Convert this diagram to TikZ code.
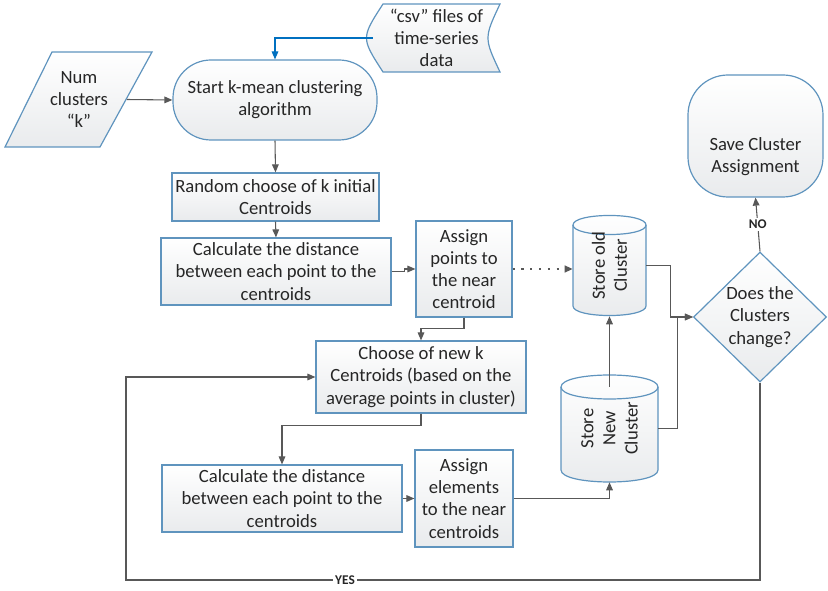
\documentclass[tikz,border=0pt]{standalone}
\usepackage{fontspec}
\setmainfont{Carlito}
\usetikzlibrary{shapes.geometric,arrows.meta,calc}

\definecolor{edgeblue}{RGB}{95,148,190}
\definecolor{linegray}{RGB}{88,88,88}
\definecolor{flowblue}{RGB}{0,112,192}
\definecolor{shadebot}{RGB}{233,235,237}
\definecolor{txt}{RGB}{38,38,38}

\begin{document}
\begin{tikzpicture}[x=0.75pt,y=-0.75pt,
  every node/.style={font=\fontsize{14}{16.6}\selectfont, text=txt, align=center, inner sep=0pt},
  shapebase/.style={draw=edgeblue, line width=0.9pt, top color=white, bottom color=shadebot},
  box/.style={shapebase, rectangle},
  term/.style={shapebase, rectangle, rounded corners=#1},
  dec/.style={shapebase, diamond, aspect=1},
  conn/.style={draw=linegray, line width=0.8pt, -{Triangle[length=6pt,width=5pt]}},
  bconn/.style={draw=flowblue, line width=0.8pt, -{Triangle[length=6pt,width=5pt]}},
  lbl/.style={font=\fontsize{10}{12}\selectfont\bfseries, fill=white, inner sep=1.5pt}
]
\useasboundingbox (0,0) rectangle (828,591);

% input parallelogram and stored-data symbol
\draw[shapebase] (52,52) -- (152,52) -- (100,147) -- (5,147) -- cycle;
\node[minimum width=95*0.75pt, minimum height=60*0.75pt] (num) at (79,99.5) {Num\\clusters\\“k”};

\draw[shapebase] (383,4) -- (500,4) .. controls (484,38) .. (500,72) -- (383,72) .. controls (361,38) .. (383,4) -- cycle;
\node[minimum width=127*0.75pt, minimum height=60*0.75pt] (csv) at (436.5,38) {“csv” files of\\time-series\\data};

% process steps
\node[term=28.5pt, minimum width=204*0.75pt, minimum height=80*0.75pt] (start) at (275,100) {Start k-mean clustering\\algorithm};
\node[box, minimum width=207*0.75pt, minimum height=48*0.75pt] (rand) at (275.5,197) {Random choose of k initial\\Centroids};
\node[box, minimum width=230*0.75pt, minimum height=67*0.75pt] (calc1) at (276,271.5) {Calculate the distance\\between each point to the\\centroids};
\node[box, minimum width=96*0.75pt, minimum height=96*0.75pt] (assign1) at (464,269) {Assign\\points to\\the near\\centroid};
\node[box, minimum width=210*0.75pt, minimum height=72*0.75pt] (choose) at (421,377) {Choose of new k\\Centroids (based on the\\average points in cluster)};
\node[box, minimum width=240*0.75pt, minimum height=67*0.75pt] (calc2) at (282,498.5) {Calculate the distance\\between each point to the\\centroids};
\node[box, minimum width=98*0.75pt, minimum height=97*0.75pt] (assign2) at (464,498.5) {Assign\\elements\\to the near\\centroids};

% storage cylinders, drawn as outlines with a rotated label node on top
% (label nodes are turned by 90 degrees: north = left side, east = top)
\path[shapebase] (573,225) -- (573,306) .. controls (573,318.7) and (646,318.7) .. (646,306)
  -- (646,225) .. controls (646,212.3) and (573,212.3) .. (573,225) -- cycle;
\draw[edgeblue, line width=0.9pt] (573,225) .. controls (573,237.7) and (646,237.7) .. (646,225);
\node[rotate=90, minimum width=101*0.75pt, minimum height=73*0.75pt] (old) at (609.5,265.5) {Store old\\Cluster};

\path[shapebase] (561,387) -- (561,470) .. controls (561,486) and (658,486) .. (658,470)
  -- (658,387) .. controls (658,371) and (561,371) .. (561,387) -- cycle;
\draw[edgeblue, line width=0.9pt] (561,387) .. controls (561,403) and (658,403) .. (658,387);
\node[rotate=90, minimum width=107*0.75pt, minimum height=97*0.75pt] (new) at (609.5,428.5) {Store\\New\\Cluster};

% decision and end
\node[dec, minimum width=133*0.75pt, minimum height=130*0.75pt] (dia) at (760,317) {Does the\\Clusters\\change?};
\node[term=30pt, minimum width=135*0.75pt, minimum height=122*0.75pt] (save) at (755.5,136) {};
\node (savetxt) at (755.5,157) {Save Cluster\\Assignment};

% connectors
\draw[conn] (num.east) -- (start.west);
\draw[bconn] (csv.west) -| (start.north);
\draw[conn] (start.south) -- (rand.north);
\draw[conn] (rand.south) -- (calc1.north);
\draw[conn] (calc1.east) -- ++(13,0) |- (assign1.west);
\draw[conn, line width=1.6pt, dash pattern=on 1.6pt off 5pt] (assign1.east) -- (assign1.east -| old.north);
\draw[conn] (assign1.south) -- ++(0,11) -| (choose.north);
\draw[conn] (choose.south) -- ++(0,12) -| (calc2.north);
\draw[conn] (calc2.east) -- (assign2.west);
\draw[conn] (assign2.east) -| (new.west);
\draw[conn] ($(new.east)+(0,12)$) -- (old.west);
\draw[conn] (old.south) -- ++(24,0) |- (dia.west);
\draw[conn] (new.south) -- ++(19,0) |- (dia.west);
\draw[conn] (dia.north) -- (save.south) node[lbl, midway] {NO};
\coordinate (loop) at (126,580);
\draw[conn] (dia.south) |- (loop) |- (choose.west);
\node[lbl] (yes) at (345,580) {YES};
\end{tikzpicture}
\end{document}
